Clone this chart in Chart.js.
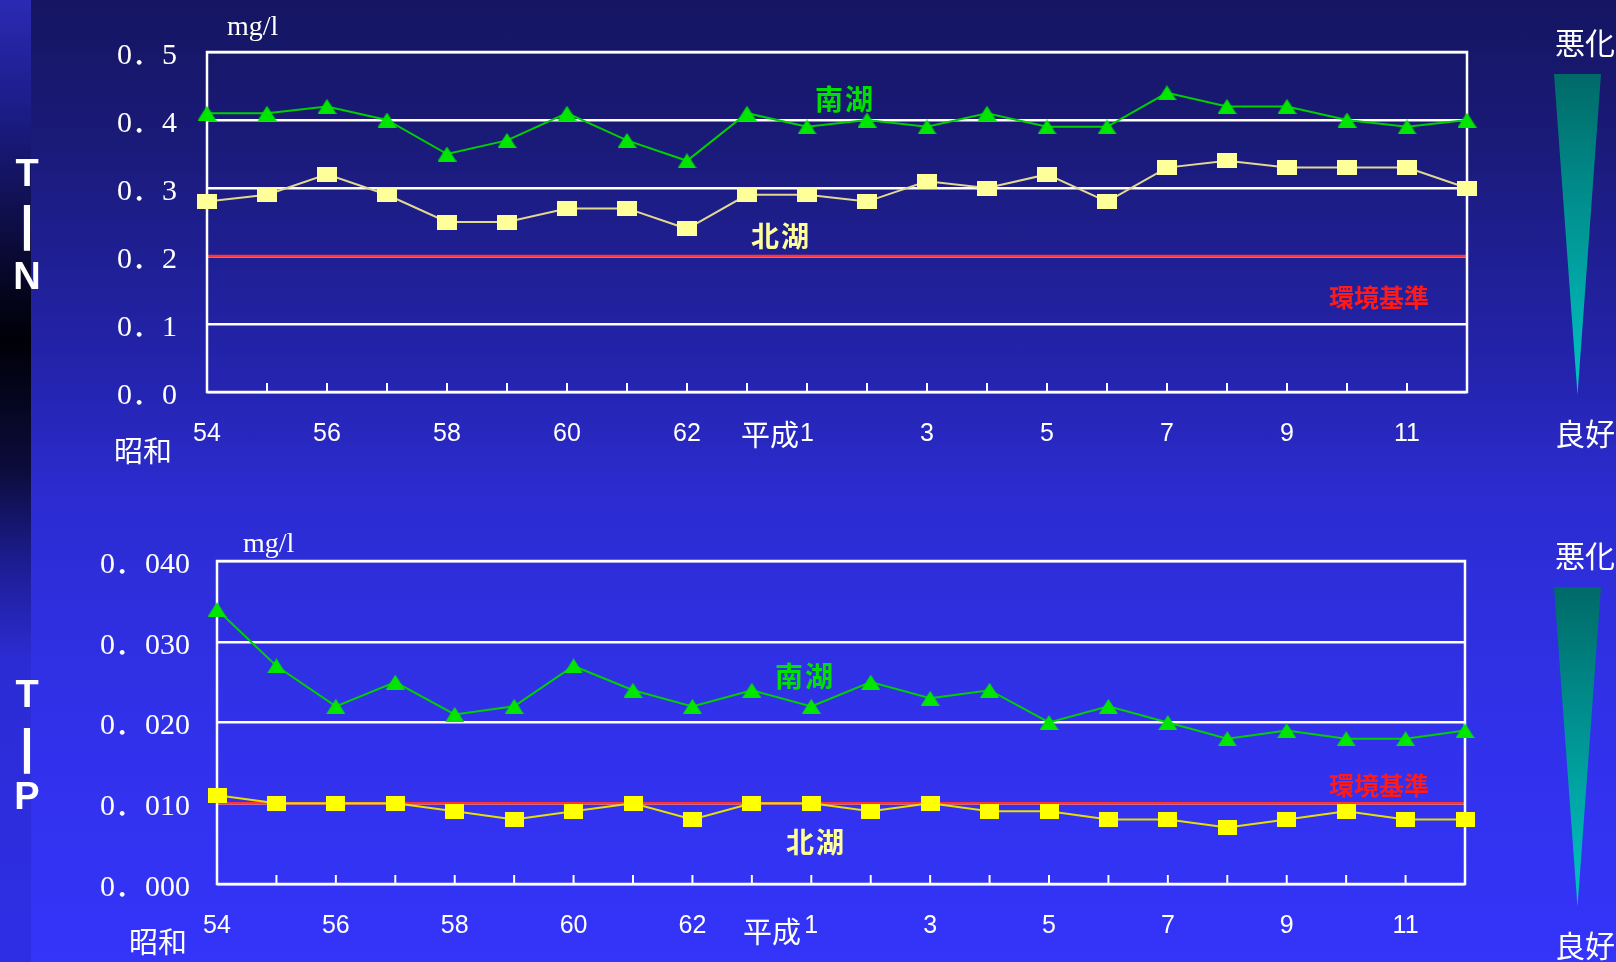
<!DOCTYPE html>
<html><head><meta charset="utf-8">
<script src="https://cdn.jsdelivr.net/npm/chart.js@4/dist/chart.umd.min.js"></script>
<style>
html,body{margin:0;padding:0;width:1616px;height:962px;overflow:hidden;}
body{position:relative;background:linear-gradient(to bottom,#151562 0px,#1a1a78 140px,#2424b0 380px,#2c2cd2 500px,#3131ea 720px,#3434fa 962px);font-family:"Noto Sans CJK JP",sans-serif;color:#fff;}
#strip{position:absolute;left:0;top:0;width:31px;height:962px;background:linear-gradient(to bottom,#2a2ab4 0px,#1c1c88 110px,#04041a 300px,#000008 340px,#0c0c3c 470px,#1c1c90 560px,#2c2cd4 660px,#2e2ee6 962px);}
canvas{position:absolute;left:0;}
.t{position:absolute;white-space:nowrap;line-height:1;transform:translate(-50%,-50%);}
.abs{position:absolute;white-space:nowrap;line-height:1;}
.lat{font-family:"Liberation Sans",sans-serif;font-size:38px;font-weight:bold;}
.bar{font-family:"Liberation Sans",sans-serif;font-size:48px;font-weight:bold;}
.jp{font-family:"Noto Sans CJK JP";font-size:29px;}
.unit{font-family:"Liberation Serif",serif;font-size:28px;}
.lake{font-family:"Noto Sans CJK JP";font-weight:bold;font-size:28px;letter-spacing:2px;}
.std{font-family:"Noto Sans CJK JP";font-weight:bold;font-size:25px;color:#ff1a1a;}
.wedge{position:absolute;left:1554px;width:47px;clip-path:polygon(0 0,100% 0,50% 100%);background:linear-gradient(to bottom,#006a68,#00c6c6);}
</style></head>
<body>
<div id="strip"></div>
<canvas id="tn" width="1616" height="480" style="top:0px"></canvas>
<canvas id="tp" width="1616" height="482" style="top:480px"></canvas>

<div class="t lat" style="left:27px;top:173px">T</div>
<div class="t bar" style="left:27px;top:224px">|</div>
<div class="t lat" style="left:27px;top:276px">N</div>
<div class="t lat" style="left:27px;top:694px">T</div>
<div class="t bar" style="left:27px;top:747px">|</div>
<div class="t lat" style="left:27px;top:796px">P</div>

<div class="abs unit" style="left:227px;top:12px">mg/l</div>
<div class="abs unit" style="left:243px;top:529px">mg/l</div>

<div class="t jp" style="left:143px;top:449px">昭和</div>
<div class="t jp" style="left:158px;top:940px">昭和</div>
<div class="t jp" style="left:770px;top:433px">平成</div>
<div class="t jp" style="left:772px;top:930px">平成</div>

<div class="t lake" style="left:845px;top:98px;color:#00e000">南湖</div>
<div class="t lake" style="left:781px;top:235px;color:#ffff99">北湖</div>
<div class="t lake" style="left:805px;top:675px;color:#00e000">南湖</div>
<div class="t lake" style="left:816px;top:841px;color:#ffff99">北湖</div>
<div class="t std" style="left:1379px;top:296px">環境基準</div>
<div class="t std" style="left:1379px;top:784px">環境基準</div>

<div class="t jp" style="left:1585px;top:41px;font-size:30px">悪化</div>
<div class="t jp" style="left:1585px;top:432px;font-size:30px">良好</div>
<div class="t jp" style="left:1585px;top:554px;font-size:30px">悪化</div>
<div class="t jp" style="left:1585px;top:944px;font-size:30px">良好</div>
<div class="wedge" style="top:74px;height:321px"></div>
<div class="wedge" style="top:587px;height:320px"></div>

<script>
// ---- data ----
const categories = ['S54','S55','S56','S57','S58','S59','S60','S61','S62','S63','H1','H2','H3','H4','H5','H6','H7','H8','H9','H10','H11','H12'];
const tickLabels = ['54','','56','','58','','60','','62','','1','','3','','5','','7','','9','','11',''];
const southTN = [0.41,0.41,0.42,0.40,0.35,0.37,0.41,0.37,0.34,0.41,0.39,0.40,0.39,0.41,0.39,0.39,0.44,0.42,0.42,0.40,0.39,0.40];
const northTN = [0.28,0.29,0.32,0.29,0.25,0.25,0.27,0.27,0.24,0.29,0.29,0.28,0.31,0.30,0.32,0.28,0.33,0.34,0.33,0.33,0.33,0.30];
const southTP = [0.034,0.027,0.022,0.025,0.021,0.022,0.027,0.024,0.022,0.024,0.022,0.025,0.023,0.024,0.020,0.022,0.020,0.018,0.019,0.018,0.018,0.019];
const northTP = [0.011,0.010,0.010,0.010,0.009,0.008,0.009,0.010,0.008,0.010,0.010,0.009,0.010,0.009,0.009,0.008,0.008,0.007,0.008,0.009,0.008,0.008];
const TN_STANDARD = 0.2;
const TP_STANDARD = 0.01;

// ---- markers ----
function marker(kind, w, h, fill){
  const c = document.createElement('canvas'); c.width = w; c.height = h;
  const g = c.getContext('2d'); g.fillStyle = fill;
  if (kind === 'tri'){ g.beginPath(); g.moveTo(w/2,0); g.lineTo(w,h); g.lineTo(0,h); g.closePath(); g.fill(); }
  else g.fillRect(0,0,w,h);
  return c;
}
const triGreen = marker('tri',19,15,'#00e600');
const sqPale = marker('sq',20,15,'#ffff99');
const sqYellow = marker('sq',19,15,'#ffff00');

const framePlugin = {
  id:'frame',
  beforeDatasetsDraw(chart, args, opts){
    const {ctx, chartArea:a, scales:{x,y}} = chart;
    ctx.save();
    const ys = y.getPixelForValue(opts.standard);
    ctx.strokeStyle = '#ff3434'; ctx.lineWidth = 2.5;
    ctx.beginPath(); ctx.moveTo(a.left, ys); ctx.lineTo(a.right, ys); ctx.stroke();
    ctx.strokeStyle = '#ffffff'; ctx.lineWidth = 2.5;
    ctx.strokeRect(a.left, a.top, a.right-a.left, a.bottom-a.top);
    ctx.lineWidth = 2;
    for (let i = 1; i < categories.length-1; i++){
      const px = x.getPixelForValue(i);
      ctx.beginPath(); ctx.moveTo(px, a.bottom); ctx.lineTo(px, a.bottom-9); ctx.stroke();
    }
    ctx.restore();
  }
};

const fmt = (v,d) => v.toFixed(d).replace('.', '．');

function build(id, south, north, northMarker, northLine, yMax, step, dec, std, pad, yWidth, yPad, xPad){
  return new Chart(document.getElementById(id), {
    type:'line',
    data:{labels:categories, datasets:[
      {data:south, borderColor:'#00d000', borderWidth:2, pointStyle:triGreen, pointRadius:10, tension:0, clip:false},
      {data:north, borderColor:northLine, borderWidth:2, pointStyle:northMarker, pointRadius:10, tension:0, clip:false}
    ]},
    options:{
      responsive:false, animation:false, devicePixelRatio:1,
      layout:{padding:pad, autoPadding:false},
      plugins:{legend:{display:false}, tooltip:{enabled:false}, frame:{standard:std}},
      scales:{
        x:{type:'category', offset:false, grid:{display:false}, border:{display:false},
           ticks:{autoSkip:false, maxRotation:0, padding:xPad, color:'#ffffff', font:{family:'"Liberation Sans", sans-serif', size:25},
                  callback:(v,i)=>tickLabels[i]},
           afterFit:s=>{s.height=60;}},
        y:{min:0, max:yMax, grid:{color:'#ffffff', lineWidth:2.5, drawTicks:false}, border:{display:false},
           ticks:{stepSize:step, padding:yPad, labelOffset:4, color:'#ffffff', font:{family:'"Liberation Serif", "Noto Sans CJK JP", serif', size:30},
                  callback:v=>fmt(v,dec)},
           afterFit:s=>{s.width=yWidth;}}
      }
    },
    plugins:[framePlugin]
  });
}

build('tn', southTN, northTN, sqPale, '#e2d890', 0.5, 0.1, 1, TN_STANDARD,
      {left:47, right:149, top:52, bottom:28}, 160, 30, 19);
build('tp', southTP, northTP, sqYellow, '#e6e000', 0.04, 0.01, 3, TP_STANDARD,
      {left:57, right:151, top:81, bottom:18}, 160, 27, 19);
</script>
</body></html>
